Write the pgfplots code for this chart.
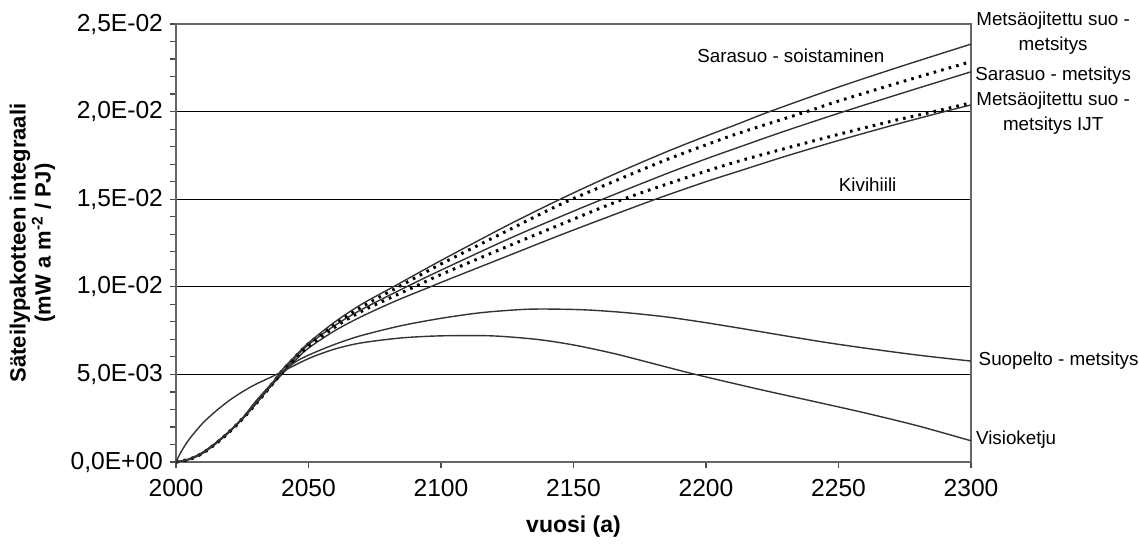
\documentclass[border=0pt]{standalone}
\usepackage{pgfplots}
\pgfplotsset{compat=1.18}
\usepackage{fontspec}
\setmainfont{Liberation Sans}

\begin{document}
\begin{tikzpicture}
\begin{axis}[
    name=ax,
    scale only axis,
    width=397.5pt, height=219pt,
    xmin=2000, xmax=2300,
    ymin=0, ymax=0.025,
    xtick={2000,2050,2100,2150,2200,2250,2300},
    xticklabels={2000,2050,2100,2150,2200,2250,2300},
    ytick={0,0.005,0.01,0.015,0.02,0.025},
    yticklabels={{0,0E+00},{5,0E-03},{1,0E-02},{1,5E-02},{2,0E-02},{2,5E-02}},
    scaled y ticks=false,
    minor y tick num=4,
    xtick pos=bottom, ytick pos=left,
    tick align=outside,
    major tick length=3pt, minor tick length=3pt,
    tick style={black!70, line width=0.6pt},
    axis line style={black!60, line width=0.7pt},
    ymajorgrids,
    major grid style={black, line width=0.6pt},
    ticklabel style={font=\fontsize{12.3}{14}\selectfont},
    xticklabel style={yshift=-2pt},
    clip=false,
    solidc/.style={black!80, line width=0.7pt, smooth, tension=0.5},
    dotc/.style={black, line width=1.5pt, dash pattern=on 1.3pt off 2.6pt, smooth, tension=0.5},
]
% Kivihiili (lowest solid)
\addplot[solidc] coordinates {
(2000,0) (2005,0.00015) (2010,0.0005) (2015,0.00105) (2020,0.0017) (2025,0.00245)
(2030,0.0033) (2035,0.0042) (2040,0.0050) (2045,0.0058) (2050,0.0065) (2060,0.0075)
(2070,0.0083) (2083,0.0092) (2096,0.0100) (2100,0.01025) (2125,0.01175) (2145,0.01295)
(2165,0.0141) (2181,0.0150) (2200,0.0160) (2213,0.01663) (2230,0.01745) (2250,0.01835)
(2270,0.0192) (2290,0.0200) (2300,0.02038)};
% Metsaojitettu suo - metsitys IJT (dotted)
\addplot[dotc] coordinates {
(2000,0) (2005,0.00015) (2010,0.0005) (2015,0.00105) (2020,0.0017) (2025,0.00245)
(2030,0.0033) (2035,0.0042) (2040,0.0051) (2045,0.0059) (2050,0.0066) (2060,0.0077)
(2070,0.0086) (2090,0.0100) (2100,0.0107) (2125,0.0123) (2145,0.01355) (2167,0.0149)
(2185,0.01585) (2200,0.0166) (2213,0.0172) (2230,0.0179) (2250,0.0187) (2270,0.01945)
(2286,0.0200) (2300,0.0205)};
% Sarasuo - metsitys (solid)
\addplot[solidc] coordinates {
(2000,0) (2005,0.00015) (2010,0.0005) (2015,0.00105) (2020,0.0017) (2025,0.00245)
(2030,0.0033) (2035,0.0042) (2040,0.0051) (2045,0.00595) (2050,0.0067) (2060,0.0078)
(2070,0.0087) (2087,0.0100) (2100,0.01095) (2125,0.0127) (2145,0.0140) (2161,0.0150)
(2185,0.01645) (2200,0.0173) (2213,0.0180) (2230,0.0189) (2252,0.0200) (2275,0.0211)
(2300,0.02227)};
% Metsaojitettu suo - metsitys (dotted)
\addplot[dotc] coordinates {
(2000,0) (2005,0.00015) (2010,0.0005) (2015,0.00105) (2020,0.0017) (2025,0.00245)
(2030,0.0033) (2035,0.0042) (2040,0.0052) (2045,0.0060) (2050,0.00675) (2060,0.0079)
(2070,0.00885) (2084,0.0100) (2100,0.0113) (2125,0.0132) (2145,0.0147) (2165,0.0160)
(2185,0.01725) (2200,0.0181) (2213,0.0188) (2238,0.0200) (2250,0.0206) (2275,0.02175)
(2300,0.02285)};
% Sarasuo - soistaminen (top solid)
\addplot[solidc] coordinates {
(2000,0) (2005,0.00015) (2010,0.0005) (2015,0.00105) (2020,0.0017) (2025,0.00245)
(2030,0.0033) (2035,0.0042) (2040,0.00525) (2045,0.00605) (2050,0.0068) (2060,0.0080)
(2070,0.0090) (2082,0.0100) (2100,0.0115) (2125,0.0135) (2145,0.0150) (2165,0.0164)
(2185,0.0177) (2200,0.0186) (2213,0.01935) (2224,0.0200) (2250,0.0214) (2275,0.02265)
(2300,0.02385)};
% Suopelto - metsitys
\addplot[solidc] coordinates {
(2000,0) (2005,0.00018) (2010,0.00055) (2015,0.0011) (2020,0.00175) (2025,0.0025)
(2030,0.00345) (2035,0.0043) (2040,0.0051) (2045,0.0057) (2050,0.0061) (2060,0.00672)
(2070,0.00722) (2085,0.00778) (2100,0.0082) (2115,0.00852) (2130,0.0087) (2140,0.00873)
(2155,0.00868) (2170,0.00852) (2185,0.00828) (2200,0.00795) (2215,0.00758) (2230,0.0072)
(2245,0.00683) (2260,0.0065) (2280,0.0061) (2300,0.00576)};
% Visioketju
\addplot[solidc] coordinates {
(2000,0) (2002,0.0006) (2005,0.0013) (2010,0.0022) (2015,0.0029) (2020,0.0035)
(2025,0.0040) (2030,0.00443) (2038,0.0050) (2050,0.0059) (2060,0.00645) (2070,0.0068)
(2085,0.00708) (2100,0.0072) (2119,0.0072) (2136,0.0070) (2150,0.00668) (2165,0.0062)
(2180,0.00562) (2196,0.0050) (2220,0.00415) (2240,0.00348) (2260,0.0028) (2280,0.00206)
(2300,0.00121)};

\begin{scope}[font=\fontsize{9.4}{12.5}\selectfont]
\node at (axis cs:2232,0.0232) {Sarasuo - soistaminen};
\node at (axis cs:2261,0.01585) {Kivihiili};
\node[align=center] at (axis cs:2331,0.02446) {Metsäojitettu suo -\\metsitys};
\node at (axis cs:2331,0.02205) {Sarasuo - metsitys};
\node[align=center] at (axis cs:2331,0.01994) {Metsäojitettu suo -\\metsitys IJT};
\node[anchor=west, inner sep=1pt] at (axis cs:2302,0.0058) {Suopelto - metsitys};
\node[anchor=west, inner sep=1pt] at (axis cs:2301,0.0013) {Visioketju};
\end{scope}
\node[rotate=90, align=center, font=\fontsize{11}{12.5}\selectfont\bfseries]
  at ([xshift=-71.75pt]rel axis cs:0,0.5)
  {Säteilypakotteen integraali\\(mW a m\textsuperscript{-2} / PJ)};
\node[font=\fontsize{11.5}{13}\selectfont\bfseries] at ([yshift=-32.5pt]rel axis cs:0.5,0) {vuosi (a)};
\end{axis}
\path (ax.south west) ++(-88pt,-43.5pt) coordinate (bbA);
\path (ax.north east) ++(84pt,12pt) coordinate (bbB);
\pgfresetboundingbox
\path[use as bounding box] (bbA) rectangle (bbB);
\end{tikzpicture}
\end{document}
